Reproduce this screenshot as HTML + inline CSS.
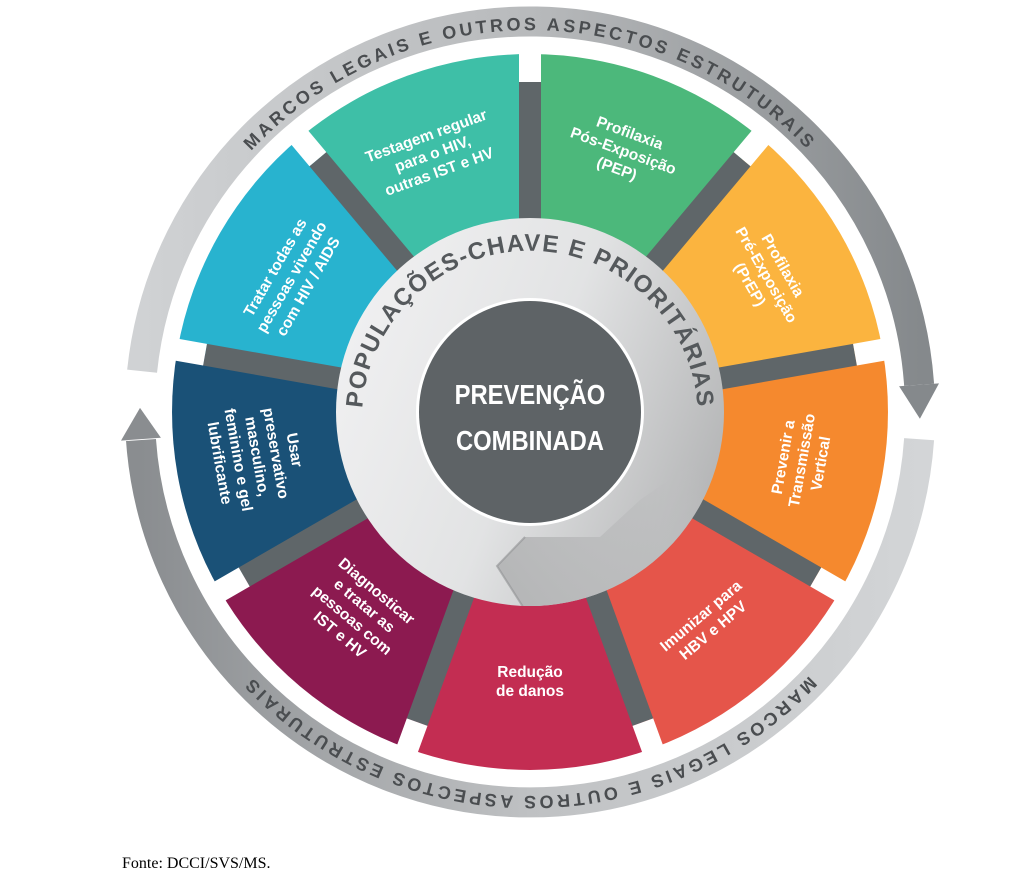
<!DOCTYPE html>
<html><head><meta charset="utf-8"><style>
html,body{margin:0;padding:0;background:#fff;}
svg{display:block;}
</style></head><body>
<svg width="1014" height="884" viewBox="0 0 1014 884" xmlns="http://www.w3.org/2000/svg">
<defs>
<linearGradient id="gtop" gradientUnits="userSpaceOnUse" x1="140" y1="0" x2="920" y2="0">
<stop offset="0" stop-color="#d0d2d4"/><stop offset="0.5" stop-color="#b8babc"/><stop offset="1" stop-color="#85898c"/>
</linearGradient>
<linearGradient id="gbot" gradientUnits="userSpaceOnUse" x1="140" y1="0" x2="920" y2="0">
<stop offset="0" stop-color="#8a8d90"/><stop offset="0.5" stop-color="#bfc1c3"/><stop offset="1" stop-color="#d3d5d7"/>
</linearGradient>
<linearGradient id="glight" x1="0" y1="0.3" x2="1" y2="0.7">
<stop offset="0" stop-color="#f0f0f1"/><stop offset="0.5" stop-color="#e2e3e4"/><stop offset="1" stop-color="#b3b4b5"/>
</linearGradient>
<linearGradient id="gdark" gradientUnits="userSpaceOnUse" x1="500" y1="600" x2="700" y2="470">
<stop offset="0" stop-color="#b4b5b6"/><stop offset="0.7" stop-color="#bdbebf" stop-opacity="0.8"/><stop offset="1" stop-color="#c0c1c2" stop-opacity="0"/>
</linearGradient>
<clipPath id="cl"><circle cx="530" cy="412" r="194"/></clipPath>
<path id="ringTop" d="M 148,412 A 382 382 0 0 1 912,412"/>
<path id="ringBot" d="M 914,412 A 384 384 0 0 1 146,412"/>
<path id="innerArc" d="M 370,470 A 168 168 0 1 1 690,470"/>
</defs>

<!-- outer ring arrows -->
<path d="M 142.1,371.2 A 390 390 0 0 1 919.1,384.8" fill="none" stroke="url(#gtop)" stroke-width="30"/>
<polygon points="899.1,386.2 939,383.4 919.9,418.8" fill="#85898c"/>
<path d="M 919.1,439.2 A 390 390 0 0 1 141,440" fill="none" stroke="url(#gbot)" stroke-width="30"/>
<polygon points="160.9,437.8 121,440.6 140,407.9" fill="#8a8d90"/>

<text font-family="Liberation Sans, sans-serif" font-weight="bold" font-size="18" fill="#4a4d50" letter-spacing="3.2"><textPath href="#ringTop" startOffset="50%" text-anchor="middle">MARCOS LEGAIS E OUTROS ASPECTOS ESTRUTURAIS</textPath></text>
<text font-family="Liberation Sans, sans-serif" font-weight="bold" font-size="18" fill="#4a4d50" letter-spacing="3.2"><textPath href="#ringBot" startOffset="50%" text-anchor="middle">MARCOS LEGAIS E OUTROS ASPECTOS ESTRUTURAIS</textPath></text>

<!-- wedges -->
<g>
<path d="M530,412 L407.6,75.6 A358 358 0 0 1 652.4,75.6 Z" fill="#4cb87b" transform="rotate(20 530 412)"/>
<path d="M530,412 L407.6,75.6 A358 358 0 0 1 652.4,75.6 Z" fill="#fbb43f" transform="rotate(60 530 412)"/>
<path d="M530,412 L407.6,75.6 A358 358 0 0 1 652.4,75.6 Z" fill="#f5892e" transform="rotate(100 530 412)"/>
<path d="M530,412 L407.6,75.6 A358 358 0 0 1 652.4,75.6 Z" fill="#e5554a" transform="rotate(140 530 412)"/>
<path d="M530,412 L407.6,75.6 A358 358 0 0 1 652.4,75.6 Z" fill="#c32d52" transform="rotate(180 530 412)"/>
<path d="M530,412 L407.6,75.6 A358 358 0 0 1 652.4,75.6 Z" fill="#8c1a50" transform="rotate(220 530 412)"/>
<path d="M530,412 L407.6,75.6 A358 358 0 0 1 652.4,75.6 Z" fill="#1a5177" transform="rotate(260 530 412)"/>
<path d="M530,412 L407.6,75.6 A358 358 0 0 1 652.4,75.6 Z" fill="#28b3cf" transform="rotate(300 530 412)"/>
<path d="M530,412 L407.6,75.6 A358 358 0 0 1 652.4,75.6 Z" fill="#3ebfa7" transform="rotate(340 530 412)"/>
</g>
<!-- separators -->
<g>
<g transform="rotate(0 530 412)"><line x1="530" y1="222" x2="530" y2="82" stroke="#5f6669" stroke-width="22"/><line x1="530" y1="82" x2="530" y2="50" stroke="#fff" stroke-width="22"/></g>
<g transform="rotate(40 530 412)"><line x1="530" y1="222" x2="530" y2="82" stroke="#5f6669" stroke-width="22"/><line x1="530" y1="82" x2="530" y2="50" stroke="#fff" stroke-width="22"/></g>
<g transform="rotate(80 530 412)"><line x1="530" y1="222" x2="530" y2="82" stroke="#5f6669" stroke-width="22"/><line x1="530" y1="82" x2="530" y2="50" stroke="#fff" stroke-width="22"/></g>
<g transform="rotate(120 530 412)"><line x1="530" y1="222" x2="530" y2="82" stroke="#5f6669" stroke-width="22"/><line x1="530" y1="82" x2="530" y2="50" stroke="#fff" stroke-width="22"/></g>
<g transform="rotate(160 530 412)"><line x1="530" y1="222" x2="530" y2="82" stroke="#5f6669" stroke-width="22"/><line x1="530" y1="82" x2="530" y2="50" stroke="#fff" stroke-width="22"/></g>
<g transform="rotate(200 530 412)"><line x1="530" y1="222" x2="530" y2="82" stroke="#5f6669" stroke-width="22"/><line x1="530" y1="82" x2="530" y2="50" stroke="#fff" stroke-width="22"/></g>
<g transform="rotate(240 530 412)"><line x1="530" y1="222" x2="530" y2="82" stroke="#5f6669" stroke-width="22"/><line x1="530" y1="82" x2="530" y2="50" stroke="#fff" stroke-width="22"/></g>
<g transform="rotate(280 530 412)"><line x1="530" y1="222" x2="530" y2="82" stroke="#5f6669" stroke-width="22"/><line x1="530" y1="82" x2="530" y2="50" stroke="#fff" stroke-width="22"/></g>
<g transform="rotate(320 530 412)"><line x1="530" y1="222" x2="530" y2="82" stroke="#5f6669" stroke-width="22"/><line x1="530" y1="82" x2="530" y2="50" stroke="#fff" stroke-width="22"/></g>
</g>

<!-- segment labels -->
<g font-family="Liberation Sans, sans-serif" font-weight="bold" font-size="15.5" fill="#fff" text-anchor="middle">
<text transform="translate(624,149) rotate(20)"><tspan x="0" y="-12">Profilaxia</tspan><tspan x="0" y="7">Pós-Exposição</tspan><tspan x="0" y="26">(PEP)</tspan></text>
<text transform="translate(768,274) rotate(60)"><tspan x="0" y="-12">Profilaxia</tspan><tspan x="0" y="7">Pré-Exposição</tspan><tspan x="0" y="26">(PrEP)</tspan></text>
<text transform="translate(800,460) rotate(-80)"><tspan x="0" y="-12">Prevenir a</tspan><tspan x="0" y="7">Transmissão</tspan><tspan x="0" y="26">Vertical</tspan></text>
<text transform="translate(706,622) rotate(-40)"><tspan x="0" y="-3">Imunizar para</tspan><tspan x="0" y="16">HBV e HPV</tspan></text>
<text transform="translate(530,680)"><tspan x="0" y="-3">Redução</tspan><tspan x="0" y="16">de danos</tspan></text>
<text transform="translate(354,618) rotate(40)"><tspan x="0" y="-30">Diagnosticar</tspan><tspan x="0" y="-11">e tratar as</tspan><tspan x="0" y="8">pessoas com</tspan><tspan x="0" y="27">IST e HV</tspan></text>
<text transform="translate(260,456) rotate(80)"><tspan x="0" y="-30">Usar</tspan><tspan x="0" y="-11">preservativo</tspan><tspan x="0" y="8">masculino,</tspan><tspan x="0" y="27">feminino e gel</tspan><tspan x="0" y="46">lubrificante</tspan></text>
<text transform="translate(290,276) rotate(-60)"><tspan x="0" y="-12">Tratar todas as</tspan><tspan x="0" y="7">pessoas vivendo</tspan><tspan x="0" y="26">com HIV / AIDS</tspan></text>
<text transform="translate(432,152) rotate(-20)"><tspan x="0" y="-12">Testagem regular</tspan><tspan x="0" y="7">para o HIV,</tspan><tspan x="0" y="26">outras IST e HV</tspan></text>
</g>

<!-- inner circles -->
<circle cx="530" cy="412" r="194" fill="url(#glight)"/>
<g clip-path="url(#cl)">
<path d="M 525,537 L 497,566 L 525,610 L 740,610 L 740,430 L 640,500 L 600,537 Z" fill="url(#gdark)"/>
<path d="M 525,537 L 497,566 L 525,610" fill="none" stroke="#8f9193" stroke-width="2" opacity="0.6"/>
</g>
<text font-family="Liberation Sans, sans-serif" font-weight="bold" font-size="24" fill="#55595c" letter-spacing="1.5"><textPath href="#innerArc" startOffset="50%" text-anchor="middle">POPULAÇÕES-CHAVE E PRIORITÁRIAS</textPath></text>
<circle cx="530" cy="412" r="114" fill="#fff"/>
<circle cx="530" cy="412" r="111" fill="#5e6366"/>
<g font-family="Liberation Sans, sans-serif" font-weight="bold" font-size="28" fill="#fff" text-anchor="middle">
<text x="530" y="404" transform="scale(0.85 1) translate(93.5 0)">PREVENÇÃO</text>
<text x="530" y="450" transform="scale(0.85 1) translate(93.5 0)">COMBINADA</text>
</g>

<text x="122" y="868" font-family="Liberation Serif, serif" font-size="16" fill="#000">Fonte: DCCI/SVS/MS.</text>
</svg>
</body></html>
